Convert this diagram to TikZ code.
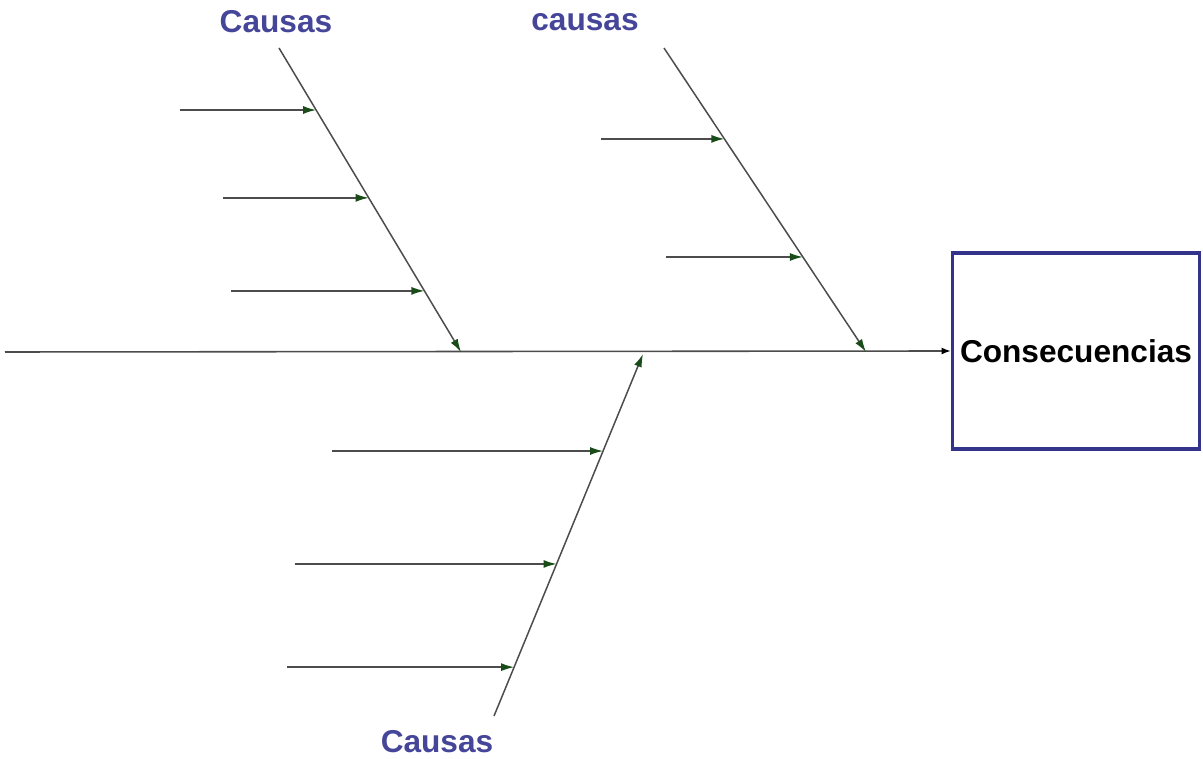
\documentclass[tikz,border=0pt]{standalone}
\usepackage{fontspec}
\setmainfont{Liberation Sans}
\usetikzlibrary{arrows.meta,calc}
\definecolor{causeblue}{rgb}{0.27,0.27,0.6}
\definecolor{boxblue}{rgb}{0.2,0.2,0.55}
\definecolor{tipgreen}{rgb}{0.1,0.3,0.1}

\begin{document}
\begin{tikzpicture}[
    x=0.02cm, y=-0.02cm,
    font=\fontsize{18}{21}\selectfont\bfseries,
    cause/.style={text=causeblue, inner sep=0pt},
    effect/.style={rectangle, draw=boxblue, line width=1.8pt, minimum width=4.95cm, minimum height=3.92cm, inner sep=0pt, text=black},
    bone/.style={draw=black!70, line width=0.85pt, -{Latex[length=0.26cm, width=0.16cm, color=tipgreen]}},
    spine/.style={draw=black!70, line width=0.9pt, -{Latex[length=0.18cm, width=0.14cm, color=black]}}
]
\useasboundingbox (0,0) rectangle (1203,759);

% --- Spine and effect ---
\node[effect] (Eff) at (1076,351) {Consecuencias};
\coordinate (Tail) at (5,352);
\draw[spine] (Tail) -- (Eff.west);

% --- Upper left bone ---
\coordinate (Ltop) at (279,48);
\coordinate (Lend) at (461,352);
\node[cause] (LCause) at (276,22) {Causas};
\draw[bone] (Ltop) -- (Lend);
\coordinate (L1) at ($(Ltop)!0.204!(Lend)$);
\coordinate (L2) at ($(Ltop)!0.493!(Lend)$);
\coordinate (L3) at ($(Ltop)!0.799!(Lend)$);
\coordinate (L1s) at ($(L1)+(-136,0)$);
\coordinate (L2s) at ($(L2)+(-146,0)$);
\coordinate (L3s) at ($(L3)+(-193,0)$);
\draw[bone] (L1s) -- (L1);
\draw[bone] (L2s) -- (L2);
\draw[bone] (L3s) -- (L3);

% --- Upper right bone ---
\coordinate (Rtop) at (664,48);
\coordinate (Rend) at (866,352);
\node[cause] (RCause) at (585,22) {causas};
\draw[bone] (Rtop) -- (Rend);
\coordinate (R1) at ($(Rtop)!0.299!(Rend)$);
\coordinate (R2) at ($(Rtop)!0.6875!(Rend)$);
\coordinate (R1s) at ($(R1)+(-123,0)$);
\coordinate (R2s) at ($(R2)+(-137,0)$);
\draw[bone] (R1s) -- (R1);
\draw[bone] (R2s) -- (R2);

% --- Lower bone ---
\coordinate (Bbot) at (494,716);
\coordinate (Bend) at (643,354);
\node[cause] (BCause) at (437,742) {Causas};
\draw[bone] (Bbot) -- (Bend);
\coordinate (B1) at ($(Bbot)!0.732!(Bend)$);
\coordinate (B2) at ($(Bbot)!0.42!(Bend)$);
\coordinate (B3) at ($(Bbot)!0.135!(Bend)$);
\coordinate (B1s) at ($(B1)+(-271,0)$);
\coordinate (B2s) at ($(B2)+(-262,0)$);
\coordinate (B3s) at ($(B3)+(-227,0)$);
\draw[bone] (B1s) -- (B1);
\draw[bone] (B2s) -- (B2);
\draw[bone] (B3s) -- (B3);
\end{tikzpicture}
\end{document}
